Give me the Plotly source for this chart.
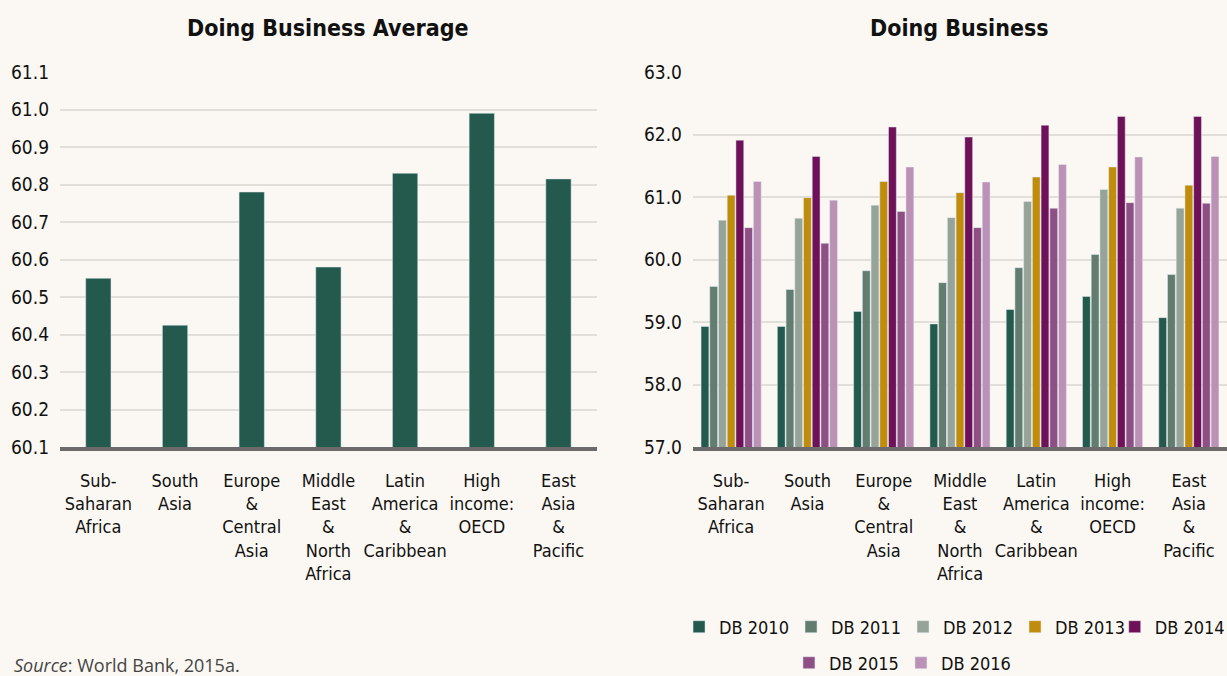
import plotly.graph_objects as go
from plotly.subplots import make_subplots

# --- Datos ---
regiones = ["Sub-<br>Saharan<br>Africa", "South<br>Asia", "Europe<br>&<br>Central<br>Asia",
            "Middle<br>East<br>&<br>North<br>Africa", "Latin<br>America<br>&<br>Caribbean",
            "High<br>income:<br>OECD", "East<br>Asia<br>&<br>Pacific"]

promedio = [60.55, 60.425, 60.78, 60.58, 60.83, 60.99, 60.815]

db2010 = [58.93, 58.93, 59.17, 58.97, 59.20, 59.41, 59.07]
db2011 = [59.57, 59.52, 59.82, 59.63, 59.87, 60.08, 59.76]
db2012 = [60.63, 60.66, 60.87, 60.67, 60.93, 61.12, 60.82]
db2013 = [61.03, 60.99, 61.25, 61.07, 61.32, 61.48, 61.19]
db2014 = [61.91, 61.65, 62.12, 61.96, 62.15, 62.29, 62.29]
db2015 = [60.51, 60.26, 60.77, 60.51, 60.82, 60.91, 60.90]
db2016 = [61.25, 60.95, 61.48, 61.24, 61.52, 61.64, 61.65]

series = [("DB 2010", db2010, "#245a4e"), ("DB 2011", db2011, "#627d70"),
          ("DB 2012", db2012, "#96a399"), ("DB 2013", db2013, "#c08c0c"),
          ("DB 2014", db2014, "#6e1159"), ("DB 2015", db2015, "#8e4f85"),
          ("DB 2016", db2016, "#bb91b5")]
# leyenda a la que va cada serie (filas como en el original)
grupo_leyenda = ["legend", "legend", "legend", "legend", "legend2", "legend3", "legend3"]

fuente = "DejaVu Sans Condensed, DejaVu Sans, sans-serif"
fondo = "#fbf8f3"

fig = make_subplots(rows=1, cols=2)

# --- Grafico izquierdo ---
fig.add_trace(go.Bar(x=regiones, y=promedio, marker_color="#245a4e", width=0.33,
                     showlegend=False), row=1, col=1)

# --- Grafico derecho ---
for (nombre, valores, color), leg in zip(series, grupo_leyenda):
    fig.add_trace(go.Bar(x=regiones, y=valores, name=nombre, marker_color=color,
                         legend=leg), row=1, col=2)

comun_y = dict(showgrid=True, gridcolor="#e2dfda", gridwidth=2, zeroline=False,
               tickformat=".1f", ticks="", ticklabelstandoff=10, showline=False,
               tickfont=dict(size=19, color="#111"))
comun_x = dict(showline=True, linecolor="#6b6b6b", linewidth=4, ticks="",
               ticklabelstandoff=14, tickangle=0, tickfont=dict(size=18, color="#111"))

fig.update_yaxes(range=[60.1, 61.1], dtick=0.1, **comun_y, row=1, col=1)
fig.update_yaxes(range=[57, 63], dtick=1, **comun_y, row=1, col=2)
fig.update_xaxes(domain=[0, 0.46], **comun_x, row=1, col=1)
fig.update_xaxes(domain=[0.5424, 1], **comun_x, row=1, col=2)

# --- Titulos ---
for ref, texto in [("x domain", "Doing Business Average"), ("x2 domain", "Doing Business")]:
    fig.add_annotation(xref=ref, yref="paper", x=0.5, y=1.117, text=f"<b>{texto}</b>",
                       showarrow=False, yanchor="middle", font=dict(size=23, color="#111"))

fig.add_annotation(xref="paper", yref="paper", x=-0.041, y=-0.58, xanchor="left",
                   yanchor="middle", showarrow=False, text="<i>Source</i>: World Bank, 2015a.",
                   font=dict(family="Open Sans, sans-serif", size=18, color="#444"))

leyenda = dict(orientation="h", yanchor="middle", xanchor="left", itemwidth=30,
               xref="container", yref="container",
               bgcolor="rgba(0,0,0,0)", font=dict(size=18, color="#111"))

fig.update_layout(
    width=1227, height=676,
    margin=dict(l=60, r=0, t=72, b=229),
    paper_bgcolor=fondo, plot_bgcolor=fondo,
    font=dict(family=fuente, color="#111"),
    barmode="group", bargap=0.2, bargroupgap=0.1,
    legend=dict(x=0.5534, y=0.0725, entrywidth=67, **leyenda),
    legend2=dict(x=0.9085, y=0.0725, **leyenda),
    legend3=dict(x=0.643, y=0.0192, entrywidth=67, **leyenda),
)

fig.write_html("out.html", config={"displayModeBar": False},
               post_script="document.body.style.margin='0';")
